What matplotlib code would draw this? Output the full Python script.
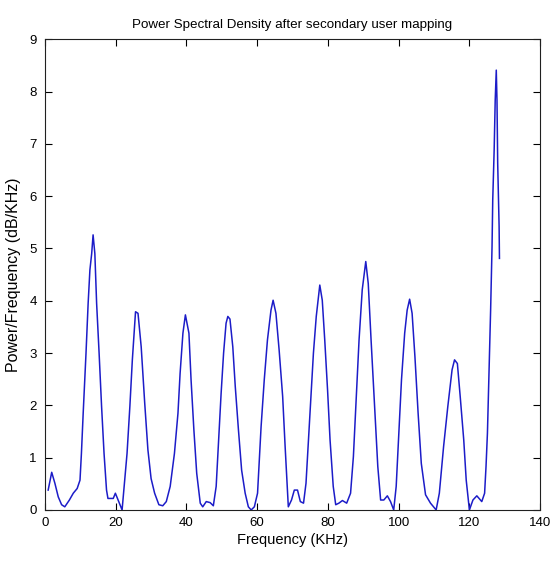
import numpy as np
import matplotlib
matplotlib.use("Agg")
import matplotlib.pyplot as plt

plt.rcParams['font.family'] = ['Liberation Sans', 'DejaVu Sans']

# frequency (KHz) and PSD values
freq = [0.9, 1.9, 2.8, 3.75, 4.7, 5.6, 6.9, 8.0, 9.1, 9.9, 10.3, 10.8, 11.6, 12.2, 12.7, 13.2,
        13.6, 14.1, 14.6, 15.3, 16.0, 16.7, 17.4, 17.8, 19.3, 19.9, 21.8, 23.2, 24.0, 24.7,
        25.6, 26.3, 27.2, 28.2, 29.1, 30.0, 31.0, 32.2, 33.3, 34.3, 35.4, 36.6, 37.6, 38.2,
        39.0, 39.7, 40.7, 41.3, 42.1, 42.9, 43.9, 44.6, 45.6, 46.7, 47.6, 48.4, 49.1, 49.8,
        50.5, 51.2, 51.7, 52.3, 53.1, 53.8, 54.7, 55.6, 56.6, 57.5, 58.3, 59.2, 60.1, 61.1,
        62.0, 62.9, 63.9, 64.5, 65.3, 66.2, 67.2, 67.9, 68.8, 69.7, 70.5, 71.4, 72.2, 73.1,
        73.8, 74.5, 75.2, 75.9, 76.7, 77.7, 78.4, 79.1, 79.9, 80.6, 81.5, 82.2, 83.1, 84.1,
        85.3, 86.4, 87.2, 87.9, 88.8, 89.7, 90.7, 91.4, 92.2, 93.2, 94.1, 94.9, 95.8, 96.8,
        97.7, 98.6, 99.3, 100.1, 100.8, 101.7, 102.4, 103.1, 103.8, 104.6, 105.5, 106.4,
        107.6, 109.0, 110.6, 111.5, 112.7, 113.9, 115.1, 115.8, 116.6, 117.4, 118.4, 119.1,
        120.0, 121.0, 122.1, 123.5, 124.3, 124.7, 125.1, 125.6, 126.0, 126.4, 126.6, 127.0,
        127.3, 127.6, 127.8, 128.0, 128.4, 128.5]
psd = [0.38, 0.72, 0.51, 0.25, 0.10, 0.06, 0.19, 0.32, 0.41, 0.57, 1.08, 1.85, 3.00, 3.95, 4.59, 4.90,
       5.26, 4.90, 3.95, 3.00, 1.98, 1.08, 0.38, 0.22, 0.22, 0.32, 0.00, 1.08, 1.98, 2.87,
       3.79, 3.76, 3.12, 2.04, 1.15, 0.60, 0.32, 0.10, 0.08, 0.16, 0.45, 1.08, 1.85, 2.61,
       3.38, 3.73, 3.38, 2.49, 1.53, 0.70, 0.13, 0.06, 0.16, 0.14, 0.08, 0.45, 1.34, 2.23,
       3.00, 3.57, 3.70, 3.65, 3.12, 2.36, 1.53, 0.76, 0.32, 0.06, 0.00, 0.06, 0.32, 1.59,
       2.49, 3.25, 3.82, 4.01, 3.76, 3.06, 2.17, 1.21, 0.06, 0.19, 0.38, 0.38, 0.16, 0.13,
       0.51, 1.34, 2.17, 3.00, 3.70, 4.30, 4.01, 3.25, 2.29, 1.34, 0.45, 0.10, 0.13, 0.18,
       0.13, 0.32, 1.02, 1.98, 3.25, 4.21, 4.75, 4.33, 3.25, 1.98, 0.83, 0.19, 0.19, 0.27,
       0.16, 0.00, 0.45, 1.53, 2.49, 3.38, 3.82, 4.03, 3.76, 2.93, 1.85, 0.89,
       0.29, 0.13, 0.00, 0.32, 1.21, 1.98, 2.68, 2.87, 2.80, 2.17, 1.34, 0.57,
       0.00, 0.19, 0.27, 0.16, 0.32, 0.83, 1.47, 2.80, 3.82, 5.03, 5.93, 6.88,
       7.84, 8.41, 7.84, 6.63, 5.42, 4.81]

fig = plt.figure(figsize=(5.52, 5.61), dpi=100)
ax = fig.add_axes([0.0815, 0.091, 0.897, 0.839])
ax.plot(freq, psd, color='#1c1cc8', lw=1.1)

ax.set_xlim(0, 140)
ax.set_ylim(0, 9)
ax.set_xticks(np.arange(0, 141, 20))
ax.set_yticks(np.arange(0, 10, 1))
ax.tick_params(direction='in', top=True, right=True, length=5, labelsize=9.5)
ax.tick_params(axis='x', pad=5)
ax.tick_params(axis='y', pad=6)
for s in ax.spines.values():
    s.set_color('#202020')
ax.set_title('Power Spectral Density after secondary user mapping', fontsize=9.6, pad=8)
ax.set_xlabel('Frequency (KHz)', fontsize=10.5, labelpad=3)
ax.set_ylabel('Power/Frequency (dB/KHz)', fontsize=11.5, labelpad=6)

fig.savefig('out.png', dpi=100)
